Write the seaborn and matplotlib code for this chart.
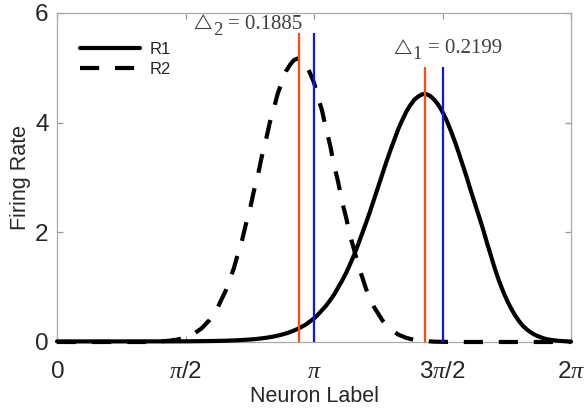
import numpy as np
import pandas as pd
import matplotlib
matplotlib.use("Agg")
import matplotlib.pyplot as plt
import seaborn as sns

# ---------------- data ----------------
neuron_label = np.linspace(0, 2 * np.pi, 129)  # grid of neuron preferred angles

r1_rate = [
    0.010, 0.010, 0.010, 0.010, 0.010, 0.010, 0.010, 0.010, 0.010, 0.010,
    0.010, 0.010, 0.010, 0.010, 0.010, 0.010, 0.010, 0.010, 0.010, 0.010,
    0.010, 0.010, 0.010, 0.010, 0.010, 0.010, 0.010, 0.010, 0.011, 0.011,
    0.011, 0.011, 0.012, 0.0125, 0.013, 0.014, 0.015, 0.016, 0.017, 0.018,
    0.019, 0.021, 0.023, 0.0256, 0.028, 0.0317, 0.036, 0.0398, 0.045, 0.0513,
    0.058, 0.0665, 0.076, 0.0877, 0.100, 0.1166, 0.135, 0.1556, 0.180, 0.2087,
    0.240, 0.2799, 0.320, 0.376, 0.430, 0.5008, 0.580, 0.6617, 0.760, 0.8642,
    0.990, 1.119, 1.260, 1.422, 1.590, 1.781, 1.980, 2.181, 2.390, 2.613,
    2.840, 3.059, 3.280, 3.491, 3.690, 3.886, 4.050, 4.202, 4.320, 4.419,
    4.480, 4.519, 4.520, 4.483, 4.415, 4.321, 4.196, 4.044, 3.866, 3.670,
    3.459, 3.237, 3.010, 2.771, 2.540, 2.303, 2.080, 1.828, 1.590, 1.346,
    1.130, 0.940, 0.770, 0.623, 0.495, 0.387, 0.296, 0.228, 0.175, 0.131,
    0.098, 0.071, 0.051, 0.038, 0.028, 0.020, 0.015, 0.010, 0.007]

r2_rate = [
    0.000, 0.000, 0.000, 0.000, 0.000, 0.000, 0.000, 0.000, 0.000, 0.000,
    0.000, 0.000, 0.000, 0.000, 0.000, 0.000, 0.000, 0.000, 0.000, 0.000,
    0.000, 0.000, 0.000, 0.004, 0.006, 0.0085, 0.012, 0.017, 0.024, 0.034,
    0.045, 0.064, 0.083, 0.115, 0.147, 0.197, 0.248, 0.325, 0.402, 0.515,
    0.624, 0.784, 0.933, 1.142, 1.335, 1.595, 1.829, 2.137, 2.404, 2.746,
    3.031, 3.383, 3.673, 4.005, 4.259, 4.539, 4.736, 4.933, 5.052, 5.143,
    5.170, 5.140, 5.063, 4.904, 4.729, 4.467, 4.220, 3.885, 3.594, 3.225,
    2.922, 2.556, 2.268, 1.935, 1.681, 1.392, 1.185, 0.960, 0.800, 0.631,
    0.516, 0.397, 0.317, 0.238, 0.186, 0.135, 0.104, 0.074, 0.056, 0.039,
    0.028, 0.019, 0.014, 0.009, 0.006, 0.004, 0.003, 0.002, 0.000, 0.000,
    0.000, 0.000, 0.000, 0.000, 0.000, 0.000, 0.000, 0.000, 0.000, 0.000,
    0.000, 0.000, 0.000, 0.000, 0.000, 0.000, 0.000, 0.000, 0.000, 0.000,
    0.000, 0.000, 0.000, 0.000, 0.000, 0.000, 0.000, 0.000, 0.000]

series_names = ["R1", "R2"]
true_centers = [3 * np.pi / 2, np.pi]          # blue lines
deltas = [0.2199, 0.1885]                       # estimated offsets
est_centers = [t - d for t, d in zip(true_centers, deltas)]  # orange lines
marker_tops = [5.02, 5.64]
delta_subs = ["1", "2"]
delta_anchor = [(4.108, 5.265), (1.663, 5.71)]

xtick_vals = [0, np.pi / 2, np.pi, 3 * np.pi / 2, 2 * np.pi]
xtick_labels = [r"$\mathsf{0}$", r"$\pi\mathsf{/2}$", r"$\pi$",
                r"$\mathsf{3}\pi\mathsf{/2}$", r"$\mathsf{2}\pi$"]
ytick_vals = [0, 2, 4, 6]

# ---------------- style ----------------
sns.set_theme(style="white")
plt.rcParams["font.family"] = ["Liberation Sans", "DejaVu Sans"]
plt.rcParams["mathtext.fontset"] = "custom"
plt.rcParams["mathtext.rm"] = "Liberation Serif"
plt.rcParams["mathtext.sf"] = "Liberation Sans"
plt.rcParams["mathtext.it"] = "Liberation Serif:italic"
plt.rcParams["mathtext.fallback"] = "stix"

df = pd.DataFrame({
    "Neuron Label": np.concatenate([neuron_label, neuron_label]),
    "Firing Rate": np.concatenate([r1_rate, r2_rate]),
    "Response": [series_names[0]] * len(neuron_label) + [series_names[1]] * len(neuron_label),
})

fig = plt.figure(figsize=(5.86, 4.16), dpi=100)
ax = fig.add_axes([0.0973, 0.1779, 0.8771, 0.7909])

sns.lineplot(data=df[df["Response"] == "R1"], x="Neuron Label", y="Firing Rate",
             color="black", linewidth=3, label="R1", ax=ax, clip_on=False, zorder=3)
sns.lineplot(data=df[df["Response"] == "R2"], x="Neuron Label", y="Firing Rate",
             color="black", linewidth=3, label="R2", ax=ax, clip_on=False, zorder=3,
             linestyle=(0, (4.6, 3.8)))
for ln in ax.lines:
    ln.set_solid_joinstyle("round")
    ln.set_dash_joinstyle("round")

ax.vlines(est_centers, 0, marker_tops, colors="#ff4a14", linewidth=1.6, zorder=4)
ax.vlines(true_centers, 0, marker_tops, colors="#0a14ff", linewidth=1.6, zorder=4)

txt_color = "#404040"
for (x0, y0), sub, dv in zip(delta_anchor, delta_subs, deltas):
    ax.annotate("\u25B3", (x0, y0), xytext=(0, 0.5), textcoords="offset points",
                fontsize=11.5, family="STIXGeneral", color=txt_color,
                ha="left", va="baseline")
    ax.annotate(sub, (x0, y0), xytext=(14.2, -4.2), textcoords="offset points",
                fontsize=13.5, family="Liberation Serif", color=txt_color,
                ha="left", va="baseline")
    ax.annotate(f"= {dv:.4f}", (x0, y0), xytext=(25.5, 0), textcoords="offset points",
                fontsize=15, family="Liberation Serif", color=txt_color,
                ha="left", va="baseline")

ax.set_xlim(0, 2 * np.pi)
ax.set_ylim(0, 6)
ax.set_xticks(xtick_vals)
ax.set_xticklabels(xtick_labels)
ax.set_yticks(ytick_vals)

for sp in ax.spines.values():
    sp.set_color("#a8a8a8")
    sp.set_linewidth(0.9)

ax.tick_params(axis="both", direction="in", length=4.5, width=0.9, color="#9a9a9a",
               bottom=True, left=True, top=True, right=True,
               labelsize=17.5, labelcolor="#262626")
ax.tick_params(axis="x", pad=14)
ax.tick_params(axis="y", pad=6)

ax.set_xlabel("Neuron Label", fontsize=15.5, color="#262626", labelpad=2)
ax.set_ylabel("Firing Rate", fontsize=15.5, color="#262626", labelpad=3)

leg = ax.legend(loc="upper left", bbox_to_anchor=(0.045, 0.912), frameon=False,
                fontsize=12, handlelength=3.6, handletextpad=0.55, labelspacing=0.3,
                borderpad=0, borderaxespad=0)
for t in leg.get_texts():
    t.set_color("#262626")

fig.savefig("out.png", dpi=100)
